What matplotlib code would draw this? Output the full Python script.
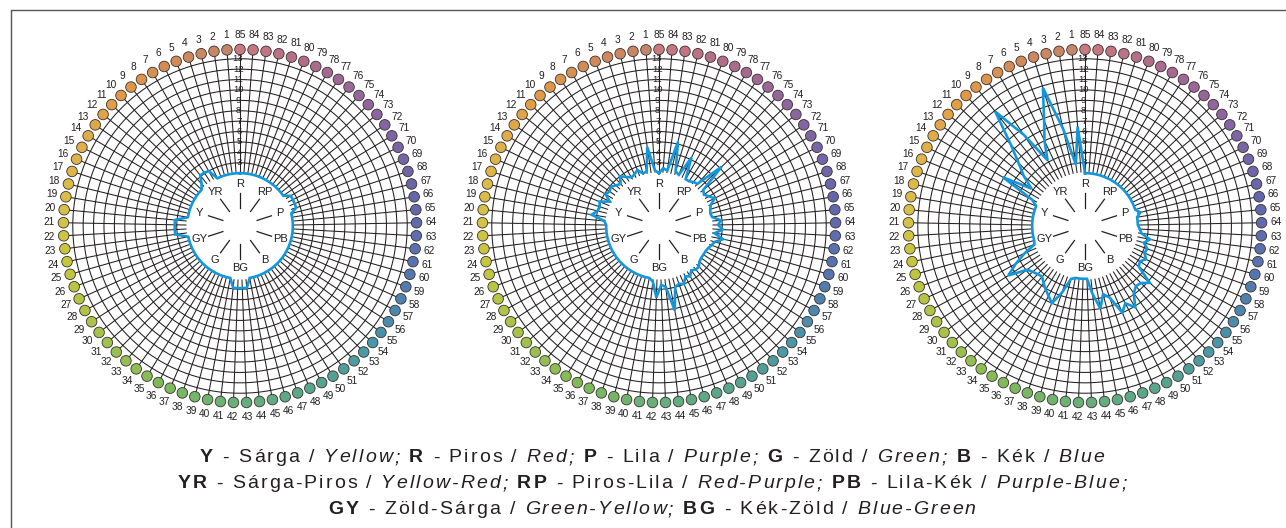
import numpy as np
import matplotlib
matplotlib.use('Agg')
import matplotlib.pyplot as plt
from matplotlib.colors import to_rgb
from matplotlib.offsetbox import TextArea, HPacker, AnnotationBbox, DrawingArea

plt.rcParams['font.family'] = ['Liberation Sans', 'DejaVu Sans']

# hue numbers around the circle, ring values, and the 10 main directions
hues = list(range(1, 86))
rings = list(range(3, 14))
directions = ['R', 'YR', 'Y', 'GY', 'G', 'BG', 'B', 'PB', 'P', 'RP']

# values per hue (1..85)
chart1 = [2.0, 2.0, 2.0, 2.0, 2.0, 2.0, 3.0, 3.1, 3.1, 2.4,
          2.0, 2.0, 2.0, 2.0, 2.0, 2.0, 2.0, 2.0, 2.0, 3.2,
          3.2, 3.2, 3.2, 2.0, 2.0, 2.0, 2.0, 2.0, 2.0, 2.0,
          2.0, 2.0, 2.0, 2.0, 2.0, 2.0, 2.0, 2.0, 2.0, 2.0,
          2.9, 2.9, 2.9, 2.9, 2.0, 2.0, 2.0, 2.0, 2.0, 2.0,
          2.0, 2.0, 2.0, 2.0, 2.0, 2.0, 2.0, 2.0, 2.0, 2.0,
          2.0, 2.0, 2.0, 2.0, 2.0, 2.0, 2.0, 2.6, 2.6, 2.6,
          2.6, 2.0, 2.0, 2.0, 2.0, 2.0, 2.0, 2.0, 2.0, 2.0,
          2.0, 2.0, 2.0, 2.0, 2.0]
chart2 = [2.3, 4.6, 2.3, 2.2, 2.7, 2.4, 2.3, 2.6, 3.0, 2.4,
          2.6, 2.9, 2.7, 2.9, 2.2, 3.1, 2.9, 3.0, 3.5, 2.2,
          2.0, 2.0, 2.0, 2.0, 2.0, 2.0, 2.0, 2.0, 2.0, 2.0,
          2.0, 2.0, 2.0, 2.0, 2.0, 2.0, 2.0, 2.0, 2.0, 2.0,
          2.3, 3.8, 2.6, 2.8, 5.2, 3.0, 2.8, 3.0, 2.4, 2.6,
          2.2, 2.4, 2.4, 2.1, 2.0, 2.0, 2.0, 2.1, 2.3, 2.5,
          3.2, 2.3, 3.05, 2.6, 2.9, 2.1, 2.0, 2.1, 2.3, 2.9,
          2.5, 2.2, 2.4, 5.2, 2.4, 2.3, 2.1, 2.1, 4.2, 2.2,
          2.4, 5.2, 2.3, 2.5, 2.0]
chart3 = [6.5, 2.9, 6.5, 10.8, 7.8, 6.0, 4.2, 7.5, 10.9, 7.5,
          5.7, 4.5, 3.2, 6.1, 2.6, 2.0, 2.0, 2.0, 2.0, 2.0,
          2.0, 2.0, 2.0, 2.0, 2.0, 2.1, 3.3, 4.5, 5.7, 3.9,
          3.6, 3.4, 3.3, 3.7, 4.1, 4.5, 5.0, 3.7, 2.2, 2.0,
          2.0, 2.0, 2.0, 3.5, 5.0, 3.7, 4.2, 6.0, 5.3, 6.1,
          4.9, 4.5, 4.6, 5.2, 3.4, 3.2, 3.6, 3.2, 3.3, 2.8,
          3.3, 2.4, 2.2, 2.0, 2.0, 2.0, 2.4, 2.0, 2.0, 2.0,
          2.0, 2.0, 2.0, 2.0, 2.0, 2.0, 2.0, 2.0, 2.0, 2.0,
          2.0, 2.0, 2.0, 2.0, 2.0]
charts = [chart1, chart2, chart3]

# legend lines: (abbreviation, Hungarian, English)
legend_lines = [
    [('Y', 'Sárga', 'Yellow;'), ('R', 'Piros', 'Red;'), ('P', 'Lila', 'Purple;'),
     ('G', 'Zöld', 'Green;'), ('B', 'Kék', 'Blue')],
    [('YR', 'Sárga-Piros', 'Yellow-Red;'), ('RP', 'Piros-Lila', 'Red-Purple;'),
     ('PB', 'Lila-Kék', 'Purple-Blue;')],
    [('GY', 'Zöld-Sárga', 'Green-Yellow;'), ('BG', 'Kék-Zöld', 'Blue-Green')],
]

# dot colour anchors (hue number -> colour)
anchor_hues = [1, 5, 10, 15, 20, 24, 30, 36, 42, 48, 54, 60, 66, 72, 78, 85]
anchor_colors = ['#c4866a', '#d08a58', '#e09a45', '#dfb04a', '#d6c04a', '#c4c63e',
                 '#a6c24a', '#80ba58', '#68b078', '#58a68c', '#4896a6', '#5476b0',
                 '#6466aa', '#8464a2', '#a66890', '#c97a7c']

W, H = 1286, 528
K = 10.4            # pixels per ring unit
R_MIN, R_MAX = -3.08, 16.2
BASE = 2.0
R_DOT, R_NUM = 13.9, 15.3
centers_x = [240, 659, 1085]
center_y = 226
ink = '#231f20'
blue = '#1296dc'
FS = 14.0           # legend font size
TRACK = 1.5         # extra letter spacing (points) - the original text is set wide

anchor_rgb = np.array([to_rgb(c) for c in anchor_colors])
dot_colors = np.column_stack([np.interp(hues, anchor_hues, anchor_rgb[:, j]) for j in range(3)])

theta = np.array(hues) * 2 * np.pi / 85
circ = np.linspace(0, 2 * np.pi, 361)

fig = plt.figure(figsize=(W / 100, H / 100), dpi=100)
r_px = (R_MAX - R_MIN) * K

for cx, vals in zip(centers_x, charts):
    ax = fig.add_axes([(cx - r_px) / W, (H - center_y - r_px) / H, 2 * r_px / W, 2 * r_px / H],
                      projection='polar')
    ax.set_theta_zero_location('N')
    ax.set_theta_direction(1)
    ax.set_ylim(R_MIN, R_MAX)
    ax.axis('off')

    # grid: rings and spokes
    for r in rings:
        ax.plot(circ, np.full_like(circ, r), color=ink, lw=0.75, zorder=1)
    ax.vlines(theta, BASE, R_DOT, color=ink, lw=0.75, zorder=1)

    # white centre
    ax.fill(circ, np.full_like(circ, BASE), color='white', zorder=3)

    # direction marks
    for k, name in enumerate(directions):
        a = k * 2 * np.pi / 10
        ax.plot([a, a], [-1.35, 0.1], color=ink, lw=0.9, zorder=4)
        ax.text(a, 0.98, name, ha='center', va='center', fontsize=8, color=ink, zorder=4)

    # ring labels on the top spoke
    for r in rings:
        ax.text(0.012, r, str(r), ha='center', va='center', fontsize=6.8, color=ink, zorder=4)

    # data line
    th = np.concatenate([[0], theta])
    rv = np.concatenate([[vals[-1]], vals])
    ax.plot(th, rv, color=blue, lw=1.9, zorder=5, solid_joinstyle='miter')

    # hue dots and numbers
    ax.scatter(theta, np.full(85, R_DOT), s=58, c=dot_colors, edgecolors='#3a3030',
               linewidths=0.6, zorder=6, clip_on=False)
    for h, t in zip(hues, theta):
        ax.text(t, R_NUM, str(h), ha='center', va='center', fontsize=7.3, color=ink)

# overlay for frame and legend text
tax = fig.add_axes([0, 0, 1, 1])
tax.set_xlim(0, W)
tax.set_ylim(H, 0)
tax.axis('off')
tax.plot([11, 11, W], [H, 10, 10], color='#555555', lw=1.0)


def spaced(text, props):
    # one TextArea per character so the line can be tracked out
    out = []
    for ch in text:
        if ch == ' ':
            out.append(DrawingArea(0.278 * FS, 1))
        else:
            out.append(TextArea(ch, textprops=props))
    return out


line_y = [458, 484, 510]
bold = dict(fontsize=FS, fontweight='bold', color=ink)
plain = dict(fontsize=FS, color=ink)
ital = dict(fontsize=FS, fontstyle='italic', color=ink)
for y, entries in zip(line_y, legend_lines):
    parts = []
    for j, (ab, hu, en) in enumerate(entries):
        if j > 0:
            parts += spaced(' ', plain)
        parts += spaced(ab, bold)
        parts += spaced(' - ' + hu + ' / ', plain)
        parts += spaced(en, ital)
    box = HPacker(children=parts, sep=TRACK, pad=0, align='baseline')
    ab_box = AnnotationBbox(box, (652, y), xycoords='data', frameon=False,
                            box_alignment=(0.5, 0.5), pad=0)
    tax.add_artist(ab_box)

fig.savefig('out.png', dpi=100)
